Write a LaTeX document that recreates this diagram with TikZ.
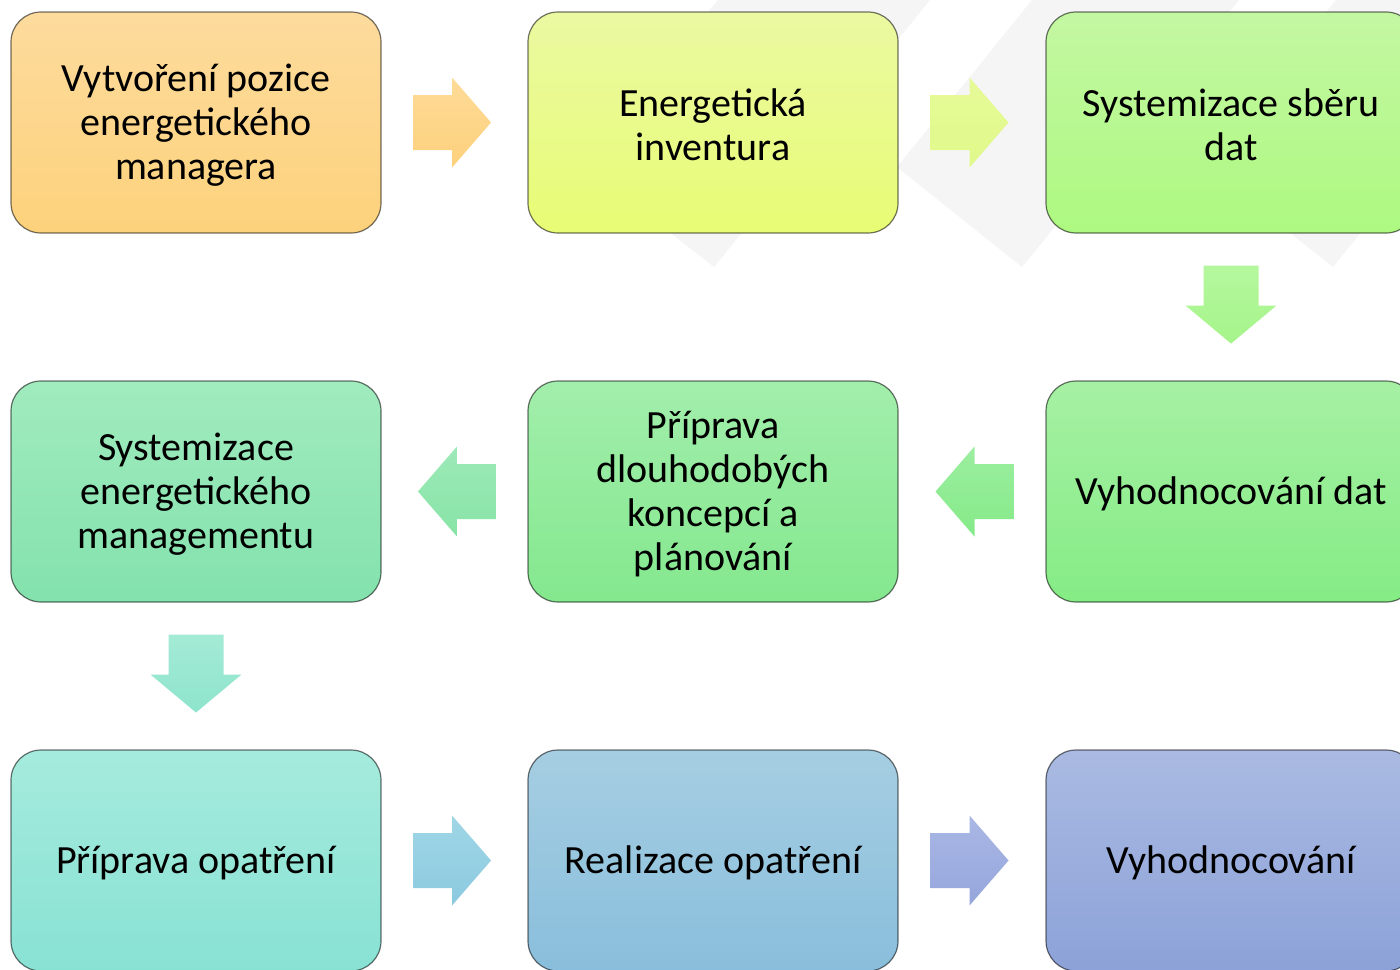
\documentclass[tikz,border=0pt]{standalone}
\usepackage{fontspec}
\setmainfont{Carlito}
\usetikzlibrary{calc}
\definecolor{wm}{HTML}{F5F5F5}
\definecolor{b1t}{HTML}{FDDB9D}\definecolor{b1b}{HTML}{FDD27C}
\definecolor{b2t}{HTML}{EBF9A2}\definecolor{b2b}{HTML}{E8FC74}
\definecolor{b3t}{HTML}{C4F7A2}\definecolor{b3b}{HTML}{ADF981}
\definecolor{b4t}{HTML}{A6F0A4}\definecolor{b4b}{HTML}{85EC85}
\definecolor{b5t}{HTML}{A2EEAC}\definecolor{b5b}{HTML}{84E88E}
\definecolor{b6t}{HTML}{A1EBBE}\definecolor{b6b}{HTML}{83E2AD}
\definecolor{b7t}{HTML}{A5EBDD}\definecolor{b7b}{HTML}{88E2D4}
\definecolor{b8t}{HTML}{A6CEE2}\definecolor{b8b}{HTML}{89BEDC}
\definecolor{b9t}{HTML}{AABAE2}\definecolor{b9b}{HTML}{8CA2D8}
\definecolor{a1t}{HTML}{FEDB97}\definecolor{a1b}{HTML}{FDD17D}
\definecolor{a2t}{HTML}{E6FA98}\definecolor{a2b}{HTML}{E0F98A}
\definecolor{a3t}{HTML}{B5F79E}\definecolor{a3b}{HTML}{A5F58A}
\definecolor{a4t}{HTML}{9CEEA0}\definecolor{a4b}{HTML}{85EA88}
\definecolor{a5t}{HTML}{9CE9B8}\definecolor{a5b}{HTML}{88E4A6}
\definecolor{a6t}{HTML}{A4EBD5}\definecolor{a6b}{HTML}{8EE4CC}
\definecolor{a7t}{HTML}{9FD6E6}\definecolor{a7b}{HTML}{8CCAE0}
\definecolor{a8t}{HTML}{A9B7E4}\definecolor{a8b}{HTML}{95A6DC}
\tikzset{
  box/.style={draw=black, draw opacity=0.55, line width=0.6pt, rounded corners=15pt,
    minimum width=185pt, minimum height=110.5pt, inner sep=0pt},
  txt/.style={align=center, inner sep=0pt, yshift=-1.25pt,
    font=\fontsize{20}{22}\selectfont, text=black},
  pics/rarrow/.style 2 args={code={\shade[top color=#1,bottom color=#2]
    (-39,-27.5) -- (0,-27.5) -- (0,-45) -- (39,0) -- (0,45) -- (0,27.5) -- (-39,27.5) -- cycle;}},
  pics/larrow/.style 2 args={code={\shade[top color=#1,bottom color=#2]
    (39,-27.5) -- (0,-27.5) -- (0,-45) -- (-39,0) -- (0,45) -- (0,27.5) -- (39,27.5) -- cycle;}},
  pics/darrow/.style 2 args={code={\shade[top color=#1,bottom color=#2]
    (-27.5,-39) -- (27.5,-39) -- (27.5,1) -- (45.5,1) -- (0,39) -- (-45.5,1) -- (-27.5,1) -- cycle;}}
}
\begin{document}
\begin{tikzpicture}[x=0.5pt,y=-0.5pt]
\useasboundingbox (0,0) rectangle (1400,969);
\clip (0,0) rectangle (1400,969);
\fill[white] (0,0) rectangle (1400,969);
% watermark
\fill[wm] (718,0) -- (930,0) -- (714,267) -- (584,165) -- cycle;
\fill[wm] (1032,0) -- (1239,0) -- (1022,267) -- (897,167) -- cycle;
\fill[wm] (1336,0) -- (1549,0) -- (1333,267) -- (1203,164) -- cycle;
% boxes
\node[box,top color=b1t,bottom color=b1b,label={[txt]center:{Vytvoření pozice\\energetického\\managera}}] (b1) at (196,122.5) {};
\node[box,top color=b2t,bottom color=b2b,label={[txt]center:{Energetická\\inventura}}] (b2) at (713,122.5) {};
\node[box,top color=b3t,bottom color=b3b,label={[txt]center:{Systemizace sběru\\dat}}] (b3) at (1231,122.5) {};
\node[box,top color=b4t,bottom color=b4b,label={[txt]center:{Vyhodnocování dat}}] (b4) at (1231,491.5) {};
\node[box,top color=b5t,bottom color=b5b,label={[txt]center:{Příprava\\dlouhodobých\\koncepcí a\\plánování}}] (b5) at (713,491.5) {};
\node[box,top color=b6t,bottom color=b6b,label={[txt]center:{Systemizace\\energetického\\managementu}}] (b6) at (196,491.5) {};
\node[box,top color=b7t,bottom color=b7b,label={[txt]center:{Příprava opatření}}] (b7) at (196,860.5) {};
\node[box,top color=b8t,bottom color=b8b,label={[txt]center:{Realizace opatření}}] (b8) at (713,860.5) {};
\node[box,top color=b9t,bottom color=b9b,label={[txt]center:{Vyhodnocování}}] (b9) at (1231,860.5) {};
% block arrows
\pic at ($(b1.east)!0.483!(b2.west)$) {rarrow={a1t}{a1b}};
\pic at ($(b2.east)!0.483!(b3.west)$) {rarrow={a2t}{a2b}};
\pic at ($(b3.south)!0.483!(b4.north)$) {darrow={a3t}{a3b}};
\pic at ($(b4.west)!0.483!(b5.east)$) {larrow={a4t}{a4b}};
\pic at ($(b5.west)!0.483!(b6.east)$) {larrow={a5t}{a5b}};
\pic at ($(b6.south)!0.483!(b7.north)$) {darrow={a6t}{a6b}};
\pic at ($(b7.east)!0.483!(b8.west)$) {rarrow={a7t}{a7b}};
\pic at ($(b8.east)!0.483!(b9.west)$) {rarrow={a8t}{a8b}};
\end{tikzpicture}
\end{document}
